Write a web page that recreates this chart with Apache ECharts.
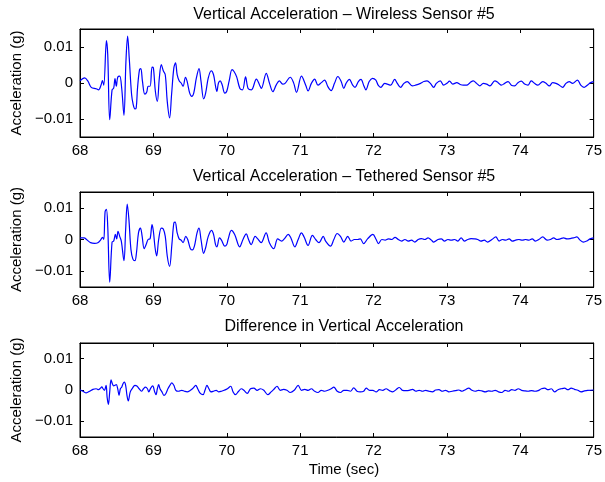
<!DOCTYPE html>
<html>
<head>
<meta charset="utf-8">
<script src="https://cdn.jsdelivr.net/npm/echarts@6/dist/echarts.min.js"></script>
<style>
html, body { margin: 0; padding: 0; background: #fff; }
#chart { width: 605px; height: 482px; }
</style>
</head>
<body>
<div id="chart"></div>
<script>
// time (sec), acceleration (g)
var wireless = [
	[68.000, 0.0006], [68.063, 0.0014], [68.108, 0.0005], [68.153, -0.0012], [68.221, -0.0016], [68.252, -0.0019],
	[68.288, -0.0005], [68.306, 0.0007], [68.324, -0.0006], [68.360, 0.0118], [68.378, 0.0079], [68.405, -0.0102],
	[68.437, -0.0019], [68.459, -0.0014], [68.477, 0.0012], [68.495, -0.0009], [68.514, 0.0016], [68.541, 0.0019],
	[68.568, -0.0014], [68.599, -0.0090], [68.626, 0.0060], [68.649, 0.0130], [68.671, 0.0069], [68.703, -0.0032],
	[68.725, -0.0060], [68.748, -0.0072], [68.766, -0.0069], [68.784, -0.0014], [68.811, 0.0037], [68.829, 0.0040],
	[68.851, 0.0005], [68.883, -0.0031], [68.910, -0.0025], [68.928, -0.0009], [68.955, -0.0009], [68.982, 0.0044],
	[69.000, 0.0042], [69.027, -0.0023], [69.054, -0.0051], [69.081, 0.0014], [69.108, 0.0051], [69.135, 0.0034],
	[69.162, 0.0023], [69.189, -0.0051], [69.221, -0.0097], [69.248, -0.0032], [69.279, 0.0042], [69.302, 0.0056],
	[69.324, 0.0023], [69.351, 0.0006], [69.378, 0.0000], [69.405, -0.0009], [69.437, 0.0016], [69.459, 0.0005],
	[69.495, -0.0028], [69.523, -0.0037], [69.550, -0.0028], [69.586, 0.0014], [69.622, 0.0040], [69.649, 0.0005],
	[69.685, -0.0044], [69.712, -0.0028], [69.748, 0.0014], [69.788, 0.0034], [69.820, 0.0023], [69.847, -0.0009],
	[69.865, -0.0023], [69.887, 0.0000], [69.910, 0.0006], [69.937, -0.0005], [69.973, -0.0028], [70.000, -0.0023],
	[70.032, 0.0005], [70.072, 0.0037], [70.099, 0.0032], [70.135, 0.0017], [70.179, -0.0015], [70.215, -0.0019],
	[70.256, 0.0017], [70.291, -0.0015], [70.336, -0.0019], [70.404, 0.0011], [70.448, -0.0006], [70.471, -0.0015],
	[70.538, 0.0027], [70.583, -0.0001], [70.628, -0.0024], [70.673, -0.0006], [70.717, 0.0006], [70.762, -0.0003],
	[70.794, -0.0001], [70.865, 0.0016], [70.910, 0.0001], [70.951, -0.0026], [71.018, 0.0019], [71.076, -0.0006],
	[71.108, -0.0022], [71.153, -0.0001], [71.198, 0.0011], [71.243, -0.0006], [71.288, 0.0001], [71.333, 0.0008],
	[71.378, -0.0010], [71.423, -0.0021], [71.468, -0.0001], [71.514, 0.0018], [71.559, 0.0004], [71.595, -0.0015],
	[71.626, -0.0001], [71.671, 0.0010], [71.716, -0.0006], [71.748, -0.0012], [71.793, 0.0004], [71.829, 0.0010],
	[71.865, -0.0006], [71.896, -0.0019], [71.941, 0.0004], [71.986, 0.0013], [72.032, 0.0008], [72.063, -0.0006],
	[72.099, -0.0012], [72.153, -0.0001], [72.189, -0.0003], [72.234, -0.0006], [72.288, 0.0010], [72.324, -0.0001],
	[72.369, -0.0012], [72.414, -0.0001], [72.459, 0.0004], [72.527, -0.0008], [72.572, -0.0006], [72.640, -0.0001],
	[72.685, 0.0004], [72.730, 0.0006], [72.775, -0.0001], [72.820, -0.0012], [72.856, -0.0001], [72.910, 0.0006],
	[72.955, -0.0006], [73.000, -0.0001], [73.036, 0.0005], [73.081, -0.0003], [73.135, 0.0001], [73.180, -0.0004],
	[73.225, -0.0006], [73.270, -0.0006], [73.315, 0.0001], [73.360, 0.0006], [73.405, -0.0001], [73.450, -0.0008],
	[73.495, -0.0001], [73.541, -0.0003], [73.586, -0.0008], [73.653, 0.0006], [73.698, 0.0001], [73.743, -0.0006],
	[73.788, -0.0001], [73.833, 0.0004], [73.878, -0.0006], [73.923, -0.0008], [73.968, 0.0001], [74.014, 0.0005],
	[74.059, -0.0003], [74.104, -0.0006], [74.149, 0.0006], [74.194, -0.0001], [74.239, -0.0006], [74.306, 0.0004],
	[74.351, -0.0001], [74.396, -0.0008], [74.441, 0.0001], [74.486, -0.0001], [74.532, -0.0006], [74.577, -0.0012],
	[74.622, -0.0001], [74.667, 0.0004], [74.712, -0.0001], [74.779, 0.0008], [74.824, -0.0006], [74.869, -0.0012],
	[74.914, -0.0006], [74.959, 0.0001], [75.000, 0.0004]
];

var tethered = [
	[68.000, 0.0005], [68.054, 0.0005], [68.099, -0.0002], [68.144, -0.0010], [68.198, -0.0012], [68.243, -0.0010],
	[68.279, -0.0002], [68.306, 0.0007], [68.324, 0.0000], [68.342, 0.0088], [68.360, 0.0095], [68.378, 0.0041],
	[68.405, -0.0135], [68.437, -0.0008], [68.459, -0.0005], [68.482, 0.0016], [68.500, 0.0002], [68.518, 0.0026],
	[68.541, 0.0010], [68.563, -0.0005], [68.599, -0.0067], [68.622, 0.0031], [68.644, 0.0112], [68.667, 0.0062],
	[68.694, -0.0031], [68.721, -0.0062], [68.748, -0.0067], [68.770, -0.0041], [68.797, 0.0021], [68.824, 0.0036],
	[68.847, 0.0010], [68.874, -0.0029], [68.901, -0.0016], [68.928, 0.0000], [68.955, 0.0002], [68.982, 0.0047],
	[69.000, 0.0026], [69.023, -0.0026], [69.045, -0.0052], [69.072, 0.0000], [69.108, 0.0036], [69.135, 0.0033],
	[69.162, 0.0010], [69.189, -0.0052], [69.221, -0.0085], [69.252, -0.0016], [69.279, 0.0052], [69.297, 0.0055],
	[69.324, 0.0021], [69.351, 0.0002], [69.378, -0.0002], [69.405, -0.0010], [69.441, 0.0010], [69.468, 0.0000],
	[69.505, -0.0029], [69.532, -0.0033], [69.559, -0.0021], [69.595, 0.0021], [69.622, 0.0036], [69.649, 0.0000],
	[69.685, -0.0044], [69.712, -0.0026], [69.748, 0.0010], [69.793, 0.0029], [69.820, 0.0016], [69.847, -0.0016],
	[69.865, -0.0023], [69.901, 0.0005], [69.928, -0.0002], [69.973, -0.0021], [70.000, -0.0016], [70.018, 0.0000],
	[70.063, 0.0029], [70.108, 0.0016], [70.176, -0.0023], [70.221, 0.0000], [70.266, 0.0018], [70.297, 0.0000],
	[70.333, -0.0016], [70.387, 0.0010], [70.423, 0.0002], [70.468, -0.0010], [70.536, 0.0021], [70.581, -0.0010],
	[70.640, -0.0029], [70.694, 0.0002], [70.748, -0.0005], [70.784, 0.0002], [70.838, 0.0016], [70.874, 0.0005],
	[70.928, -0.0023], [70.973, 0.0000], [71.018, 0.0021], [71.054, 0.0008], [71.108, -0.0019], [71.167, 0.0013],
	[71.212, 0.0000], [71.257, -0.0010], [71.315, 0.0010], [71.347, -0.0005], [71.414, -0.0021], [71.459, 0.0000],
	[71.505, 0.0019], [71.550, 0.0010], [71.595, -0.0008], [71.649, 0.0010], [71.694, -0.0005], [71.739, 0.0000],
	[71.784, 0.0000], [71.820, 0.0002], [71.865, -0.0013], [71.919, 0.0002], [71.991, 0.0016], [72.036, 0.0000],
	[72.068, -0.0013], [72.113, 0.0000], [72.158, -0.0002], [72.203, 0.0002], [72.248, 0.0000], [72.293, 0.0007],
	[72.338, 0.0000], [72.383, -0.0005], [72.428, 0.0000], [72.473, -0.0005], [72.518, -0.0002], [72.563, -0.0008],
	[72.608, 0.0000], [72.653, 0.0003], [72.698, 0.0000], [72.743, 0.0005], [72.788, -0.0002], [72.820, -0.0008],
	[72.878, 0.0000], [72.923, 0.0002], [72.968, -0.0005], [73.014, 0.0000], [73.059, -0.0002], [73.104, 0.0000],
	[73.149, -0.0005], [73.194, 0.0005], [73.239, -0.0005], [73.284, 0.0000], [73.329, 0.0003], [73.374, 0.0002],
	[73.419, 0.0000], [73.464, -0.0005], [73.509, -0.0002], [73.554, -0.0008], [73.613, 0.0000], [73.667, 0.0008],
	[73.712, -0.0005], [73.757, 0.0000], [73.802, -0.0002], [73.847, 0.0002], [73.892, -0.0005], [73.937, -0.0002],
	[73.982, 0.0000], [74.027, -0.0002], [74.072, 0.0000], [74.117, -0.0002], [74.162, 0.0002], [74.207, -0.0005],
	[74.252, 0.0000], [74.306, 0.0008], [74.365, -0.0002], [74.410, 0.0000], [74.455, 0.0005], [74.500, 0.0000],
	[74.545, 0.0002], [74.590, 0.0005], [74.635, 0.0002], [74.680, 0.0003], [74.725, 0.0005], [74.770, 0.0008],
	[74.815, -0.0002], [74.860, -0.0008], [74.905, -0.0005], [74.950, 0.0002], [75.000, 0.0005]
];

var difference = [
	[68.000, 0.0001], [68.041, -0.0004], [68.086, -0.0009], [68.131, -0.0004], [68.176, 0.0002], [68.221, 0.0004],
	[68.252, 0.0001], [68.279, 0.0006], [68.297, 0.0010], [68.315, 0.0004], [68.333, -0.0001], [68.356, 0.0015],
	[68.369, -0.0022], [68.387, -0.0046], [68.405, -0.0006], [68.423, 0.0032], [68.441, 0.0020], [68.459, 0.0013],
	[68.477, 0.0015], [68.495, 0.0017], [68.514, 0.0004], [68.532, -0.0017], [68.550, 0.0004], [68.568, 0.0009],
	[68.586, 0.0020], [68.604, 0.0025], [68.622, 0.0015], [68.640, -0.0017], [68.658, -0.0035], [68.685, -0.0006],
	[68.716, 0.0006], [68.748, 0.0015], [68.775, 0.0013], [68.806, 0.0004], [68.838, -0.0004], [68.865, 0.0004],
	[68.892, 0.0009], [68.919, 0.0004], [68.937, -0.0006], [68.964, 0.0006], [68.991, 0.0013], [69.018, -0.0006],
	[69.036, -0.0015], [69.054, 0.0004], [69.072, 0.0017], [69.090, 0.0004], [69.117, -0.0006], [69.144, -0.0017],
	[69.171, -0.0011], [69.198, 0.0004], [69.225, 0.0015], [69.252, 0.0023], [69.279, 0.0015], [69.306, -0.0001],
	[69.342, -0.0004], [69.387, -0.0001], [69.423, -0.0004], [69.459, -0.0006], [69.505, -0.0001], [69.541, 0.0006],
	[69.577, 0.0015], [69.604, 0.0004], [69.640, -0.0011], [69.676, -0.0015], [69.703, -0.0001], [69.730, 0.0015],
	[69.757, 0.0004], [69.784, -0.0006], [69.820, -0.0004], [69.856, -0.0001], [69.892, -0.0006], [69.928, -0.0004],
	[69.964, -0.0001], [70.009, 0.0004], [70.054, 0.0012], [70.086, -0.0006], [70.117, -0.0015], [70.162, -0.0004],
	[70.198, 0.0004], [70.234, -0.0001], [70.279, -0.0011], [70.324, 0.0004], [70.369, 0.0006], [70.414, -0.0001],
	[70.459, 0.0004], [70.505, -0.0001], [70.559, -0.0015], [70.604, -0.0006], [70.649, 0.0004], [70.685, 0.0012],
	[70.730, -0.0001], [70.775, 0.0002], [70.820, -0.0001], [70.865, -0.0008], [70.919, -0.0001], [70.973, 0.0015],
	[71.018, -0.0001], [71.063, 0.0002], [71.108, -0.0001], [71.153, 0.0004], [71.198, -0.0004], [71.243, -0.0008],
	[71.288, -0.0001], [71.333, -0.0004], [71.378, -0.0001], [71.423, 0.0004], [71.459, 0.0009], [71.505, -0.0004],
	[71.550, -0.0008], [71.595, -0.0001], [71.640, -0.0001], [71.685, -0.0004], [71.730, 0.0007], [71.775, -0.0004],
	[71.820, -0.0006], [71.865, -0.0004], [71.901, 0.0006], [71.946, -0.0001], [71.991, -0.0001], [72.036, -0.0006],
	[72.081, 0.0001], [72.126, -0.0001], [72.171, 0.0004], [72.216, -0.0002], [72.261, -0.0006], [72.306, 0.0001],
	[72.351, 0.0008], [72.396, -0.0001], [72.441, -0.0002], [72.486, -0.0001], [72.532, 0.0002], [72.577, -0.0004],
	[72.622, -0.0001], [72.667, -0.0004], [72.712, -0.0001], [72.757, -0.0004], [72.802, -0.0006], [72.847, 0.0000],
	[72.892, 0.0001], [72.937, -0.0004], [72.982, -0.0001], [73.027, -0.0006], [73.072, -0.0004], [73.117, -0.0002],
	[73.162, 0.0000], [73.207, -0.0004], [73.252, 0.0001], [73.297, 0.0006], [73.342, -0.0001], [73.387, -0.0004],
	[73.432, -0.0001], [73.477, -0.0003], [73.523, -0.0006], [73.568, -0.0003], [73.613, -0.0004], [73.658, -0.0001],
	[73.703, -0.0006], [73.748, -0.0008], [73.793, -0.0001], [73.838, -0.0004], [73.883, 0.0001], [73.928, -0.0001],
	[73.973, 0.0004], [74.018, -0.0001], [74.063, -0.0003], [74.108, -0.0004], [74.153, -0.0002], [74.198, -0.0004],
	[74.243, -0.0002], [74.288, 0.0004], [74.333, 0.0006], [74.378, 0.0001], [74.423, 0.0004], [74.468, -0.0006],
	[74.514, 0.0001], [74.559, 0.0004], [74.604, 0.0006], [74.649, 0.0001], [74.694, 0.0006], [74.739, 0.0002],
	[74.784, -0.0001], [74.829, -0.0006], [74.874, -0.0003], [74.919, -0.0001], [75.000, 0.0000]
];

var panelTitles = [
	'Vertical Acceleration \u2013 Wireless Sensor #5',
	'Vertical Acceleration \u2013 Tethered Sensor #5',
	'Difference in Vertical Acceleration'
];
var panelData = [wireless, tethered, difference];
var yTicks = [-0.01, 0, 0.01];
var yName = 'Acceleration (g)';
var xName = 'Time (sec)';

var myChart = echarts.init(document.getElementById('chart'));

var FONT = 'Liberation Sans, Arial, Helvetica, sans-serif';
var gridTops = [29, 192, 343];
var gridHeights = [108, 95, 94];
var titleTops = [2, 164, 314];

function yLabel(v) {
	if (Math.abs(v) < 1e-9) return '0';
	return (v < 0 ? '\u2212' : '') + Math.abs(v).toFixed(2);
}

var grids = [], xAxes = [], yAxes = [], series = [], titles = [];
for (var i = 0; i < 3; i++) {
	grids.push({
		left: 80, width: 518, top: gridTops[i], height: gridHeights[i],
		show: true, borderColor: '#000', borderWidth: 1, backgroundColor: '#fff'
	});
	titles.push({
		text: panelTitles[i], left: 339, top: titleTops[i], textAlign: 'center',
		textStyle: { fontFamily: FONT, fontSize: 16, fontWeight: 'normal', color: '#000' }
	});
	// bottom and top x axes
	[false, true].forEach(function(isTop) {
		xAxes.push({
			gridIndex: i, type: 'value', min: 68, max: 75, interval: 1,
			position: isTop ? 'top' : 'bottom',
			axisLine: { show: true, onZero: false, lineStyle: { color: '#000', width: 1 } },
			axisTick: { show: true, inside: true, length: 4, lineStyle: { color: '#000' } },
			axisLabel: { show: !isTop, margin: 6, fontFamily: FONT, fontSize: 15, color: '#000' },
			splitLine: { show: false }
		});
	});
	[false, true].forEach(function(isRight) {
		yAxes.push({
			gridIndex: i, type: 'value', min: -0.015, max: 0.015,
			position: isRight ? 'right' : 'left',
			name: isRight ? '' : yName, nameLocation: 'middle', nameGap: 52,
			nameTextStyle: { fontFamily: FONT, fontSize: 15, color: '#000' },
			axisLine: { show: true, onZero: false, lineStyle: { color: '#000', width: 1 } },
			axisTick: { show: true, inside: true, length: 4, customValues: yTicks, lineStyle: { color: '#000' } },
			axisLabel: { show: !isRight, margin: 7, customValues: yTicks, formatter: yLabel, fontFamily: FONT, fontSize: 15, color: '#000' },
			splitLine: { show: false }
		});
	});
	series.push({
		type: 'line',
		xAxisIndex: i * 2, yAxisIndex: i * 2,
		data: panelData[i],
		showSymbol: false,
		smooth: 0.35,
		lineStyle: { color: '#0000ff', width: 1.2 },
		itemStyle: { color: '#0000ff' }
	});
}
titles.push({
	text: xName, left: 339, top: 457, textAlign: 'center',
	textStyle: { fontFamily: FONT, fontSize: 15, fontWeight: 'normal', color: '#000' }
});

var option = {
	animation: false,
	backgroundColor: '#fff',
	title: titles,
	grid: grids,
	xAxis: xAxes,
	yAxis: yAxes,
	series: series
};
myChart.setOption(option);
</script>
</body>
</html>
